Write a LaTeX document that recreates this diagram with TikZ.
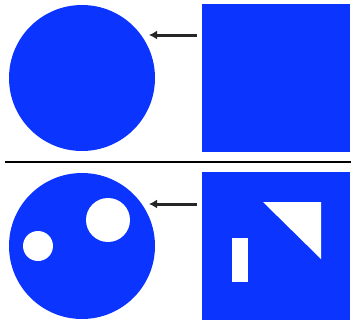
\documentclass[tikz,border=0pt]{standalone}
\usepackage{xcolor}
\usepackage{tikz}
\usetikzlibrary{arrows.meta, positioning, shapes.geometric}
\definecolor{shapeblue}{HTML}{0C34FF}
\definecolor{arrowgray}{HTML}{262626}

\begin{document}
\begin{tikzpicture}[
    x=0.1cm, y=-0.1cm,
    disc/.style={circle, fill=shapeblue, minimum size=14.6cm, inner sep=0pt},
    panel/.style={rectangle, fill=shapeblue, minimum width=14.8cm, minimum height=14.8cm, inner sep=0pt},
    hole/.style={circle, fill=white, inner sep=0pt},
    link/.style={-{Latex[length=8mm, width=9mm]}, draw=arrowgray, line width=3mm},
]
    \useasboundingbox (0, 0) rectangle (351, 320);

    % top row
    \node[disc] (c1) at (82, 78) {};
    \node[panel] (s1) at (276, 78) {};
    \coordinate (a1) at (197, 35);
    \coordinate (b1) at (149, 35);
    \draw[link] (a1) -- (b1);

    % divider
    \coordinate (d1) at (5, 162);
    \coordinate (d2) at (351, 162);
    \draw[line width=2.4mm, black] (d1) -- (d2);

    % bottom row
    \node[disc] (c2) at (82, 246) {};
    \node[hole, minimum size=3.0cm] (h1) at (38, 246) {};
    \node[hole, minimum size=4.4cm] (h2) at (108, 220) {};
    \node[panel] (s2) at (276, 246) {};
    \fill[white] (232, 238) rectangle (248, 282);
    \fill[white] (263, 202) -- (321, 202) -- (321, 259) -- cycle;
    \coordinate (a2) at (197, 204);
    \coordinate (b2) at (149, 204);
    \draw[link] (a2) -- (b2);
\end{tikzpicture}
\end{document}
